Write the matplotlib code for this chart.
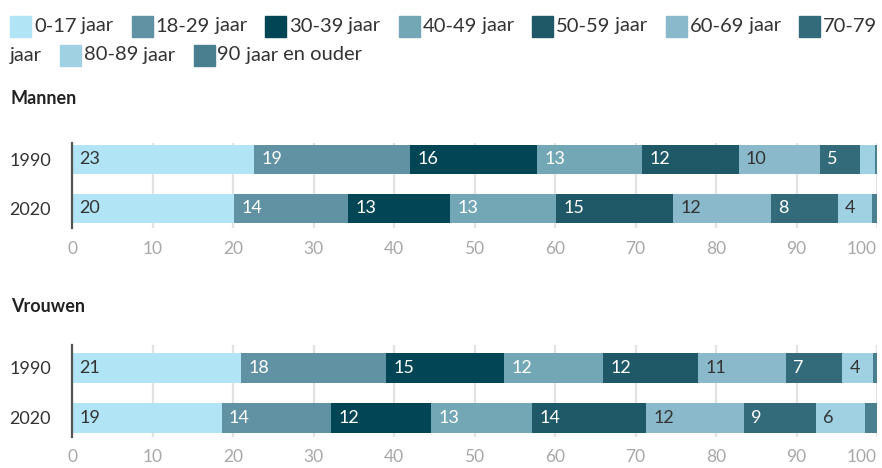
import matplotlib.pyplot as plt
from matplotlib.patches import Rectangle

plt.rcParams['font.family'] = ['Lato', 'DejaVu Sans']

# leeftijdsgroepen en kleuren
groepen = ['0-17 jaar', '18-29 jaar', '30-39 jaar', '40-49 jaar', '50-59 jaar',
           '60-69 jaar', '70-79 jaar', '80-89 jaar', '90 jaar en ouder']
kleuren = ['#b1e4f5', '#6092a3', '#024655', '#73a7b5', '#1f5968',
           '#89b9ca', '#336b7b', '#9fd1e3', '#4a7f8f']
tekstkleur = ['#333333', 'white', 'white', 'white', 'white',
              '#333333', 'white', '#333333', 'white']

jaren = ['1990', '2020']

# aandelen in procenten
mannen_1990 = [22.6, 19.4, 15.8, 13.0, 12.0, 10.1, 5.0, 1.8, 0.3]
mannen_2020 = [20.1, 14.2, 12.7, 13.1, 14.6, 12.1, 8.3, 4.3, 0.6]
vrouwen_1990 = [21.0, 18.0, 14.7, 12.3, 11.8, 10.9, 7.0, 3.8, 0.5]
vrouwen_2020 = [18.6, 13.6, 12.4, 12.6, 14.1, 12.2, 8.9, 6.1, 1.6]

W, H = 882, 468
fig = plt.figure(figsize=(W / 100, H / 100), dpi=100)


def px_axes(top, bottom):
    return fig.add_axes([72 / W, 1 - bottom / H, 805 / W, (bottom - top) / H])


def teken(ax, reeksen, ylim):
    for i, waarden in enumerate(reeksen):
        links = 0
        for j, v in enumerate(waarden):
            ax.barh(i, v, left=links, height=0.59, color=kleuren[j], zorder=2)
            if v >= 3:
                ax.text(links + 0.9, i, str(int(round(v))), va='center', ha='left',
                        color=tekstkleur[j], fontsize=13, zorder=3)
            links += v
    ax.set_xlim(0, 100)
    ax.set_ylim(*ylim)
    ax.set_yticks(range(len(jaren)))
    ax.set_yticklabels(jaren)
    ax.set_xticks(range(0, 101, 10))
    ax.tick_params(axis='x', length=0, pad=9, labelsize=12.5, labelcolor='#a8a8a8')
    ax.tick_params(axis='y', length=0, pad=15, labelsize=13, labelcolor='#333333')
    ax.xaxis.get_ticklabels()[-1].set_horizontalalignment('right')
    ax.grid(axis='x', color='#e2e2e2', linewidth=1.6, zorder=0)
    ax.set_axisbelow(True)
    for s in ['top', 'right', 'bottom']:
        ax.spines[s].set_visible(False)
    ax.spines['left'].set_color('#555555')
    ax.spines['left'].set_linewidth(1.6)
    ax.spines['left'].set_zorder(4)


ax1 = px_axes(143, 228)
teken(ax1, [mannen_1990, mannen_2020], (1.4, -0.33))
ax2 = px_axes(345, 437)
teken(ax2, [vrouwen_1990, vrouwen_2020], (1.38, -0.46))

fig.text(11 / W, 1 - 98 / H, 'Mannen', fontsize=13, fontweight='bold',
         color='#222222', va='center')
fig.text(11 / W, 1 - 307 / H, 'Vrouwen', fontsize=13, fontweight='bold',
         color='#222222', va='center')

# legenda met woordterugloop
renderer = fig.canvas.get_renderer()
LFS = 14.5


def breedte(s):
    t = fig.text(0, 0, s, fontsize=LFS)
    w = t.get_window_extent(renderer).width
    t.remove()
    return w


x, rij = 10, 0
rijen_y = [26, 55]
for naam, kleur in zip(groepen, kleuren):
    woorden = naam.split(' ')
    if x + 24 + breedte(woorden[0]) > 878:
        x, rij = 10, rij + 1
    y = rijen_y[rij]
    fig.patches.append(Rectangle((x / W, 1 - (y + 10.5) / H), 21 / W, 21 / H,
                                 transform=fig.transFigure, color=kleur))
    x += 24
    for k, wd in enumerate(woorden):
        tekst = wd if k == 0 else ' ' + wd
        w = breedte(tekst)
        if x + w > 880:
            x, rij = 10, rij + 1
            y = rijen_y[rij]
            tekst = wd
            w = breedte(tekst)
        fig.text(x / W, 1 - y / H, tekst, fontsize=LFS, color='#333333', va='center')
        x += w
    x += 18

fig.savefig('out.png', dpi=100)
